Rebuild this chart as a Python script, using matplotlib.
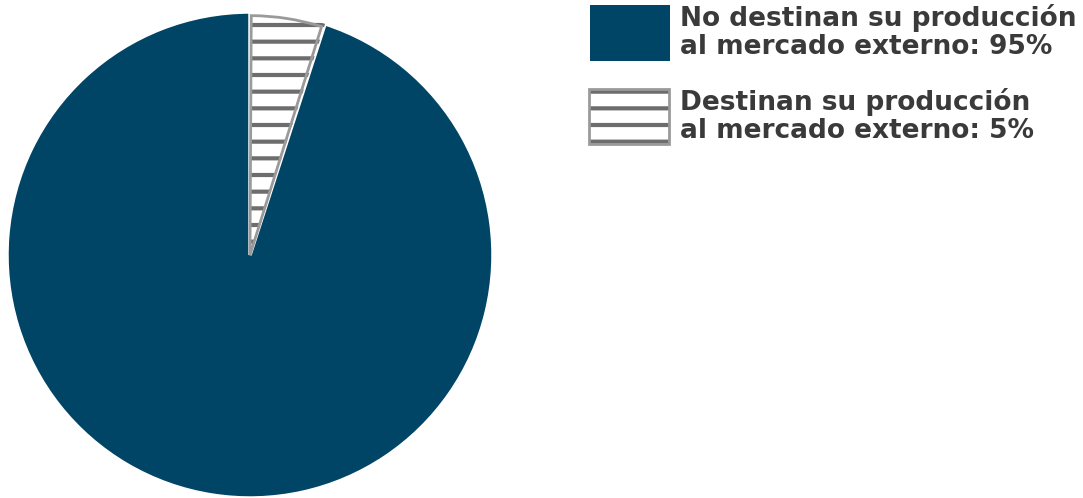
import matplotlib
matplotlib.use("Agg")
import matplotlib.pyplot as plt
from matplotlib.patches import Rectangle
import matplotlib.patches as mpatches

labels = ["No destinan su producción\nal mercado externo: 95%",
          "Destinan su producción\nal mercado externo: 5%"]
values = [95, 5]
colors = ["#004466", "#ffffff"]

plt.rcParams['hatch.linewidth'] = 3.0
W, H = 1083, 498
fig = plt.figure(figsize=(W/100, H/100), dpi=100)
ax = fig.add_axes([7/W, 0/H, 486/W, 486/H])
wedges, _ = ax.pie(values, colors=colors, startangle=90, counterclock=True,
                   radius=1.0, wedgeprops=dict(edgecolor="white", linewidth=2.5))
wedges[1].set_hatch('-')
wedges[1].set_edgecolor('#6d6d6d')
wedges[1].set_linewidth(0)
w = wedges[1]
outline = mpatches.Wedge(w.center, w.r * 0.985, w.theta1 + 0.6, w.theta2 - 0.3,
                         fill=False, edgecolor="#9a9a9a", linewidth=2)
ax.add_patch(outline)
ax.set_xlim(-1, 1); ax.set_ylim(-1, 1)
ax.set_aspect('equal')
ax.axis('off')

# legend (manual)
txtcolor = "#3a3a3a"
boxes = [(590, 5, 80, 56), (589, 89, 80, 55)]
for i, (lab, (x, y, bw, bh)) in enumerate(zip(labels, boxes)):
    if i == 0:
        r = Rectangle((x/W, 1 - (y+bh)/H), bw/W, bh/H, transform=fig.transFigure,
                      facecolor=colors[0], edgecolor='none')
        fig.patches.append(r)
    else:
        r = Rectangle((x/W, 1 - (y+bh)/H), bw/W, bh/H, transform=fig.transFigure,
                      facecolor='white', edgecolor='#6d6d6d', hatch='-', linewidth=0)
        fig.patches.append(r)
        r2 = Rectangle((x/W, 1 - (y+bh)/H), bw/W, bh/H, transform=fig.transFigure,
                       fill=False, edgecolor='#9a9a9a', linewidth=2)
        fig.patches.append(r2)
    fig.text(680/W, 1 - (y + bh/2 - 1)/H, lab, ha='left', va='center', fontsize=19,
             fontweight='bold', color=txtcolor, family='DejaVu Sans', linespacing=1.1)

fig.savefig("out.png", dpi=100)
